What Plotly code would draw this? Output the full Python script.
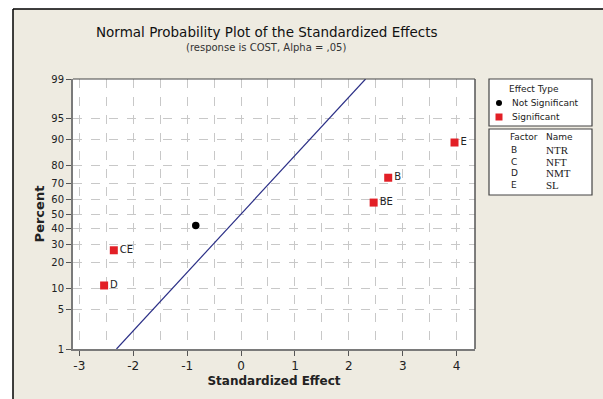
import plotly.graph_objects as go
from statistics import NormalDist

# ---- data ----
sig_labels = ["D", "CE", "BE", "B", "E"]
sig_effect = [-2.54, -2.36, 2.46, 2.73, 3.96]
sig_percent = [10.9, 26.6, 57.8, 73.4, 89.1]

ns_labels = [""]
ns_effect = [-0.84]
ns_percent = [42.2]

line_effect = [-2.31, 2.31]
line_percent = [1, 99]

y_ticks = [1, 5, 10, 20, 30, 40, 50, 60, 70, 80, 90, 95, 99]
x_ticks = [-3, -2, -1, 0, 1, 2, 3, 4]

factors = ["B", "C", "D", "E"]
names = ["NTR", "NFT", "NMT", "SL"]

nd = NormalDist()
def z(p):
    return nd.inv_cdf(p / 100.0)

W, H = 603, 399
L, R, T, B = 73, 475, 79, 349
def px(x):
    return (x - L) / (R - L)
def py(y):
    return (B - y) / (B - T)

BEIGE = "#EEEBE1"
RED = "#E21F26"
FONT = "DejaVu Sans"

fig = go.Figure()

fig.add_trace(go.Scatter(
    x=line_effect, y=[z(p) for p in line_percent], mode="lines",
    line=dict(color="#2B2F86", width=1.2), hoverinfo="skip", showlegend=False))

fig.add_trace(go.Scatter(
    x=ns_effect, y=[z(p) for p in ns_percent], mode="markers",
    marker=dict(symbol="circle", size=7.5, color="black"), showlegend=False))

fig.add_trace(go.Scatter(
    x=sig_effect, y=[z(p) for p in sig_percent], mode="markers+text",
    text=sig_labels, textposition="middle right",
    textfont=dict(family=FONT, size=10, color="#222"),
    marker=dict(symbol="square", size=8, color=RED), showlegend=False))

grid = dict(showgrid=True, gridcolor="#C8C8C8", gridwidth=1, griddash="dash")

fig.update_xaxes(
    range=[-3.117, 4.34], tickvals=x_ticks, ticktext=[str(t) for t in x_ticks],
    ticks="outside", ticklen=5, tickcolor="#555",
    tickfont=dict(family=FONT, size=12, color="#222"),
    showline=True, linecolor="#7A7A7A", linewidth=2, zeroline=False,
    minor=dict(dtick=0.5, tick0=-3, showgrid=True, gridcolor="#C8C8C8",
               griddash="dash", ticks=""),
    title=dict(text="<b>Standardized Effect</b>", font=dict(family=FONT, size=12, color="#222"),
               standoff=4),
    **grid)

fig.update_yaxes(
    range=[z(1), z(99)], tickvals=[z(p) for p in y_ticks], ticktext=[str(p) for p in y_ticks],
    ticks="outside", ticklen=5, tickcolor="#555",
    tickfont=dict(family=FONT, size=10, color="#222"),
    showline=True, linecolor="#7A7A7A", linewidth=2, zeroline=False,
    title=dict(text="<b>Percent</b>", font=dict(family=FONT, size=13, color="#222"),
               standoff=4),
    **grid)

shapes = []
# white strips and black outer border
shapes.append(dict(type="rect", xref="paper", yref="paper", x0=px(0), x1=px(13), y0=py(H), y1=py(0),
                   fillcolor="white", line=dict(width=0), layer="below"))
shapes.append(dict(type="rect", xref="paper", yref="paper", x0=px(0), x1=px(W), y0=py(9), y1=py(0),
                   fillcolor="white", line=dict(width=0), layer="below"))
shapes.append(dict(type="line", xref="paper", yref="paper", x0=px(13), x1=px(13), y0=py(9), y1=py(H),
                   line=dict(color="black", width=1.5)))
shapes.append(dict(type="line", xref="paper", yref="paper", x0=px(13), x1=px(W), y0=py(9), y1=py(9),
                   line=dict(color="black", width=1.5)))
# top and right plot border
shapes.append(dict(type="line", xref="paper", yref="paper", x0=0, x1=1, y0=1, y1=1,
                   line=dict(color="#444", width=1)))
shapes.append(dict(type="line", xref="paper", yref="paper", x0=1, x1=1, y0=0, y1=1,
                   line=dict(color="#555", width=1.5)))
# legend boxes
shapes.append(dict(type="rect", xref="paper", yref="paper", x0=px(489), x1=px(592), y0=py(126), y1=py(79),
                   fillcolor="white", line=dict(color="#444", width=1.2)))
shapes.append(dict(type="rect", xref="paper", yref="paper", x0=px(489), x1=px(592), y0=py(195), y1=py(129),
                   fillcolor="white", line=dict(color="#444", width=1.2)))
# legend symbols
shapes.append(dict(type="circle", xref="paper", yref="paper", x0=px(496), x1=px(502), y0=py(106), y1=py(100),
                   fillcolor="black", line=dict(width=0)))
shapes.append(dict(type="rect", xref="paper", yref="paper", x0=px(495.5), x1=px(502.5), y0=py(120.5), y1=py(113.5),
                   fillcolor=RED, line=dict(width=0)))

ann = []
def text(t, x, y, size=10, family=FONT, color="#222", xanchor="left"):
    ann.append(dict(text=t, xref="paper", yref="paper", x=px(x), y=py(y), showarrow=False,
                    xanchor=xanchor, yanchor="middle", font=dict(family=family, size=size, color=color)))

text("Normal Probability Plot of the Standardized Effects", 267, 32, size=13.5, xanchor="center", color="#111")
text("(response is COST, Alpha = ,05)", 266, 47, size=10, xanchor="center", color="#333")
text("Effect Type", 534, 89, size=9, xanchor="center")
text("Not Significant", 510, 103, size=9)
text("Significant", 510, 117, size=9)
text("Factor", 508, 137, size=9)
text("Name", 544, 137, size=9)
for i, (f, n) in enumerate(zip(factors, names)):
    yy = 150 + i * 11.5
    text(f, 509, yy, size=9)
    text(n, 544, yy, size=11, family="Liberation Serif")

fig.update_layout(
    width=W, height=H, margin=dict(l=L, r=W - R, t=T, b=H - B, autoexpand=False),
    paper_bgcolor=BEIGE, plot_bgcolor="white",
    shapes=shapes, annotations=ann, showlegend=False)

fig.write_html("out.html")
